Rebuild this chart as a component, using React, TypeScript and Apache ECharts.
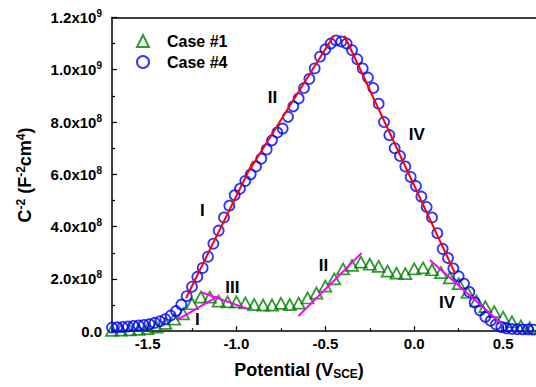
import React, { useEffect, useRef } from 'react';
import * as echarts from 'echarts';

const FONT = 'Liberation Sans, Arial, sans-serif';

// Case #4 (blue circles): potential (V_SCE) and C^-2 in units of 1e8 F^-2cm^4
const potential4 = [
  -1.70, -1.67, -1.64, -1.61, -1.58, -1.55, -1.52, -1.49, -1.46, -1.43,
  -1.40, -1.37, -1.34, -1.31, -1.28, -1.25, -1.22, -1.19, -1.16, -1.13,
  -1.10, -1.07, -1.04, -1.01, -0.98, -0.95, -0.92, -0.89, -0.86, -0.83,
  -0.80, -0.77, -0.74, -0.71, -0.68, -0.65, -0.62, -0.59, -0.56, -0.53,
  -0.50, -0.47, -0.44, -0.41, -0.38, -0.35, -0.32, -0.29, -0.26, -0.23,
  -0.20, -0.17, -0.14, -0.11, -0.08, -0.05, -0.02, 0.01, 0.04, 0.07,
  0.10, 0.13, 0.16, 0.19, 0.22, 0.25, 0.28, 0.31, 0.34, 0.37,
  0.40, 0.43, 0.46, 0.49, 0.52, 0.55, 0.58, 0.61, 0.64, 0.67,
];
const case4 = [
  0.14, 0.15, 0.16, 0.18, 0.20, 0.22, 0.24, 0.27, 0.32, 0.38,
  0.46, 0.60, 0.77, 1.02, 1.34, 1.70, 2.08, 2.42, 2.85, 3.35,
  3.85, 4.35, 4.80, 5.20, 5.45, 5.75, 6.00, 6.30, 6.60, 6.95,
  7.30, 7.60, 7.75, 8.20, 8.60, 8.90, 9.30, 9.65, 10.05, 10.50,
  10.78, 11.00, 11.12, 11.08, 11.00, 10.75, 10.40, 10.05, 9.70, 9.30,
  8.70, 8.00, 7.50, 7.00, 6.70, 6.30, 5.90, 5.55, 5.15, 4.75,
  4.35, 3.75, 3.15, 2.80, 2.40, 2.10, 1.82, 1.50, 1.10, 0.80,
  0.55, 0.40, 0.26, 0.16, 0.11, 0.09, 0.08, 0.07, 0.07, 0.06,
];

// Case #1 (green triangles)
const potential1 = [
  -1.70, -1.65, -1.60, -1.55, -1.50, -1.45, -1.40, -1.35, -1.30, -1.25,
  -1.20, -1.15, -1.10, -1.05, -1.00, -0.95, -0.90, -0.85, -0.80, -0.75,
  -0.70, -0.65, -0.60, -0.55, -0.50, -0.45, -0.40, -0.35, -0.30, -0.25,
  -0.20, -0.15, -0.10, -0.05, 0.00, 0.05, 0.10, 0.15, 0.20, 0.25,
  0.30, 0.35, 0.40, 0.45, 0.50, 0.55, 0.60, 0.65,
];
const case1 = [
  0.03, 0.04, 0.05, 0.07, 0.10, 0.16, 0.30, 0.46, 0.66, 1.05,
  1.30, 1.30, 1.15, 1.12, 1.12, 1.08, 1.02, 1.00, 1.00, 1.06,
  1.02, 1.07, 1.27, 1.46, 1.72, 2.00, 2.38, 2.52, 2.64, 2.56,
  2.48, 2.30, 2.22, 2.20, 2.38, 2.42, 2.35, 2.24, 2.04, 1.82,
  1.48, 1.16, 0.94, 0.75, 0.54, 0.36, 0.20, 0.13,
];

// Linear fits (end points in data units)
const fitsCase4 = [
  [[-1.283, 1.27], [-0.904, 6.51]],
  [[-0.927, 6.16], [-0.453, 11.30]],
  [[-0.392, 11.30], [0.229, 2.22]],
];
const fitsCase1 = [
  [[-1.333, 0.43], [-1.108, 1.32]],
  [[-1.198, 1.49], [-0.933, 0.845]],
  [[-0.651, 0.58], [-0.296, 2.99]],
  [[0.088, 2.72], [0.494, 0.275]],
];

// Region labels: [text, potential, value]
const regionLabels: [string, number, number][] = [
  ['I', -1.192, 4.63],
  ['II', -0.797, 8.92],
  ['IV', 0.015, 7.54],
  ['I', -1.22, 0.43],
  ['III', -1.023, 1.69],
  ['II', -0.51, 2.53],
  ['IV', 0.184, 1.08],
];

const xMajorTicks = [-1.5, -1.0, -0.5, 0.0, 0.5];
const xMinorTicks = [-1.25, -0.75, -0.25, 0.25];

const X_MIN = -1.7;
const X_MAX = 0.685;

function zip(xs: number[], ys: number[]) {
  return xs.map((x, i) => [x, ys[i]]);
}

export default function App() {
  const ref = useRef<HTMLDivElement>(null);
  useEffect(() => {
    const chart = echarts.init(ref.current!, null, { renderer: 'svg' });
    const lineSeries = (pts: number[][], color: string) => ({
      type: 'line',
      data: pts,
      showSymbol: false,
      symbol: 'none',
      lineStyle: { color, width: 2 },
      silent: true,
      z: 3,
    });
    const option: any = {
      animation: false,
      backgroundColor: '#fff',
      grid: { left: 112, right: 0, top: 17.4, bottom: 55.8 },
      xAxis: [
        {
          type: 'value', min: X_MIN, max: X_MAX, position: 'bottom',
          axisLine: { show: true, onZero: false, lineStyle: { color: '#000', width: 1.5 } },
          axisTick: { show: true, inside: true, length: 5, customValues: xMajorTicks, lineStyle: { color: '#000', width: 1.2 } },
          axisLabel: {
            customValues: xMajorTicks, margin: 5, color: '#000', fontSize: 15, fontWeight: 'bold', fontFamily: FONT,
            formatter: (v: number) => v.toFixed(1),
          },
          splitLine: { show: false },
        },
        {
          type: 'value', min: X_MIN, max: X_MAX, position: 'bottom',
          axisLine: { show: false },
          axisTick: { show: true, inside: true, length: 3, customValues: xMinorTicks, lineStyle: { color: '#000', width: 1.2 } },
          axisLabel: { show: false },
          splitLine: { show: false },
        },
        {
          type: 'value', min: X_MIN, max: X_MAX, position: 'top',
          axisLine: { show: true, onZero: false, lineStyle: { color: '#000', width: 1.5 } },
          axisTick: { show: false },
          axisLabel: { show: false },
          splitLine: { show: false },
        },
      ],
      yAxis: {
        type: 'value', min: 0, max: 12, interval: 2,
        axisLine: { show: true, onZero: false, lineStyle: { color: '#000', width: 1.5 } },
        axisTick: { show: true, inside: true, length: 5, lineStyle: { color: '#000', width: 1.2 } },
        minorTick: { show: true, splitNumber: 2, length: 3, lineStyle: { color: '#000', width: 1.2 } },
        splitLine: { show: false },
        axisLabel: {
          margin: 10,
          formatter: (v: number) => {
            if (v === 0) return '{b|0.0}';
            const exp = v >= 10 ? 9 : 8;
            const m = exp === 9 ? v / 10 : v;
            return `{b|${m.toFixed(1)}x10}{s|${exp}}`;
          },
          rich: {
            b: { fontSize: 15, fontWeight: 'bold', fontFamily: FONT, color: '#000' },
            s: { fontSize: 10, fontWeight: 'bold', fontFamily: FONT, color: '#000', verticalAlign: 'top', padding: [0, 0, 8, 0] },
          },
        },
      },
      legend: {
        data: ['Case #1', 'Case #4'],
        orient: 'vertical', left: 131, top: 28, itemWidth: 12, itemHeight: 12, itemGap: 5,
        textStyle: { fontSize: 16, fontWeight: 'bold', fontFamily: FONT, color: '#000', padding: [0, 0, 0, 13] },
      },
      series: [
        {
          name: 'Case #1', type: 'scatter', data: zip(potential1, case1), symbol: 'triangle', symbolSize: [12, 11],
          itemStyle: { color: 'transparent', borderColor: '#008000', borderWidth: 1.8 }, z: 2,
        },
        {
          name: 'Case #4', type: 'scatter', data: zip(potential4, case4), symbol: 'circle', symbolSize: 10,
          itemStyle: { color: 'transparent', borderColor: '#0000ff', borderWidth: 1.8 }, z: 2,
        },
        ...fitsCase4.map((p) => lineSeries(p, '#ff0000')),
        ...fitsCase1.map((p) => lineSeries(p, '#ff00ff')),
      ],
    };
    chart.setOption(option);

    const graphics: any[] = regionLabels.map(([t, x, y]) => {
      const [px, py] = chart.convertToPixel({ xAxisIndex: 0, yAxisIndex: 0 }, [x, y]) as number[];
      return {
        type: 'text', x: px, y: py, z: 10,
        style: { text: t, fill: '#000', fontSize: 17, fontWeight: 'bold', fontFamily: FONT, align: 'center', verticalAlign: 'middle' },
      };
    });
    graphics.push({
      type: 'text', x: 299, y: 370, z: 10,
      style: {
        text: '{a|Potential (V}{s|SCE}{a|)}', align: 'center', verticalAlign: 'middle',
        rich: {
          a: { fontSize: 18, fontWeight: 'bold', fontFamily: FONT, fill: '#000' },
          s: { fontSize: 12, fontWeight: 'bold', fontFamily: FONT, fill: '#000', padding: [8, 0, 0, 0] },
        },
      },
    });
    graphics.push({
      type: 'text', x: 25, y: 175, rotation: Math.PI / 2, z: 10,
      style: {
        text: '{a|C}{s|-2}{a| (F}{s|-2}{a|cm}{s|4}{a|)}', align: 'center', verticalAlign: 'middle',
        rich: {
          a: { fontSize: 18, fontWeight: 'bold', fontFamily: FONT, fill: '#000' },
          s: { fontSize: 12, fontWeight: 'bold', fontFamily: FONT, fill: '#000', padding: [0, 0, 9, 0] },
        },
      },
    });
    chart.setOption({ graphic: graphics });
    return () => chart.dispose();
  }, []);
  return <div ref={ref} style={{ position: 'fixed', left: 0, top: 0, width: 536, height: 387, background: '#fff' }} />;
}
